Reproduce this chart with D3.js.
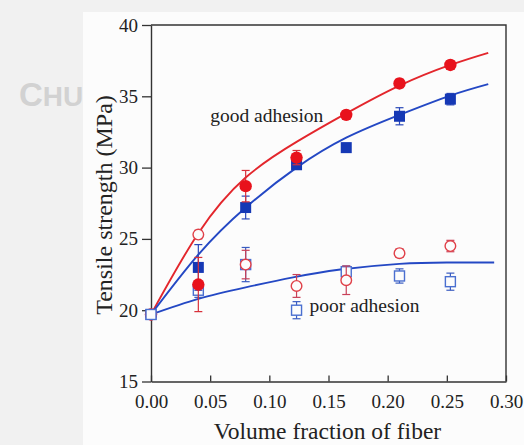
<!DOCTYPE html>
<html>
<head>
<meta charset="utf-8">
<script src="https://cdn.jsdelivr.net/npm/d3@7"></script>
<style>
  body { margin: 0; background: #f1f1f1; }
  svg { display: block; }
</style>
</head>
<body>
<svg id="chart" width="524" height="445"></svg>
<script>
// 데이터
const fractions = [0, 0.04, 0.08, 0.123, 0.165, 0.21, 0.253];
const goodRed = [19.7, 21.8, 28.7, 30.7, 33.7, 35.9, 37.2];
const goodRedErr = [0.2, 1.9, 1.1, 0.5, 0.3, 0.3, 0.3];
const goodBlue = [19.7, 23.0, 27.2, 30.2, 31.4, 33.6, 34.8];
const goodBlueErr = [0.2, 1.6, 0.8, 0.3, 0.3, 0.6, 0.4];
const poorRed = [19.7, 25.3, 23.2, 21.7, 22.1, 24.0, 24.5];
const poorRedErr = [0.2, 0.3, 1.0, 0.8, 1.0, 0.3, 0.4];
const poorBlue = [19.7, 21.4, 23.2, 20.0, 22.7, 22.4, 22.0];
const poorBlueErr = [0.2, 0.5, 1.2, 0.6, 0.4, 0.5, 0.6];

// 피팅 곡선 (그림에서 읽은 점)
const fitGoodRed = [[0, 19.7], [0.04, 25.4], [0.08, 29.3], [0.123, 31.8], [0.165, 33.8], [0.21, 35.75], [0.253, 37.2], [0.285, 38.05]];
const fitGoodBlue = [[0, 19.7], [0.04, 23.9], [0.08, 27.2], [0.123, 30.0], [0.165, 32.1], [0.21, 33.7], [0.253, 35.05], [0.285, 35.85]];
const fitPoor = [[0, 19.7], [0.04, 20.8], [0.08, 21.6], [0.12, 22.3], [0.16, 22.85], [0.21, 23.25], [0.25, 23.35], [0.29, 23.35]];

const xTicks = [0, 0.05, 0.10, 0.15, 0.20, 0.25, 0.30];
const yTicks = [15, 20, 25, 30, 35, 40];
const labels = [
    { text: "good adhesion", x: 0.05, y: 33.2 },
    { text: "poor adhesion", x: 0.134, y: 19.9 }
];

const svg = d3.select("#chart");
const margin = { top: 25, right: 18, bottom: 63.5, left: 151 };
const width = +svg.attr("width") - margin.left - margin.right;
const height = +svg.attr("height") - margin.top - margin.bottom;
const font = "'Liberation Serif', 'Times New Roman', serif";

// 배경 + 워터마크
svg.append("text")
    .attr("x", 19).attr("y", 106)
    .attr("fill", "#d2d2d2")
    .style("font-family", "'Liberation Sans Narrow', 'Liberation Sans', sans-serif")
    .style("font-weight", "bold")
    .style("font-size", "33px")
    .text("C")
    .append("tspan").style("font-size", "28px").text("HU");
svg.append("rect")
    .attr("x", 83).attr("y", 12)
    .attr("width", 524 - 83).attr("height", 445 - 12)
    .attr("fill", "#fcfcfc");

const g = svg.append("g").attr("transform", `translate(${margin.left},${margin.top})`);

const x = d3.scaleLinear().domain([0, 0.3]).range([0, width]);
const y = d3.scaleLinear().domain([15, 40]).range([height, 0]);

// 축
const xAxis = g.append("g")
    .attr("transform", `translate(0,${height})`)
    .call(d3.axisBottom(x).tickValues(xTicks).tickFormat(d3.format(".2f")).tickSizeInner(-6).tickSizeOuter(0).tickPadding(13));
const yAxis = g.append("g")
    .call(d3.axisLeft(y).tickValues(yTicks).tickSizeInner(9).tickSizeOuter(0).tickPadding(4));

[xAxis, yAxis].forEach(ax => {
    ax.select(".domain").attr("stroke", "#333").attr("stroke-width", 1.4);
    ax.selectAll(".tick line").attr("stroke", "#333").attr("stroke-width", 1.3);
    ax.selectAll(".tick text")
        .attr("fill", "#222")
        .style("font-family", font)
        .style("font-size", "19px");
});
xAxis.selectAll(".tick text").attr("dy", "0.35em").attr("y", 20);

// 위쪽, 오른쪽 테두리
g.append("path")
    .attr("d", `M0,0H${width}V${height}`)
    .attr("fill", "none")
    .attr("stroke", "#333")
    .attr("stroke-width", 1.4);

// 축 제목
svg.append("text")
    .attr("x", margin.left + width / 2 - 1)
    .attr("y", 439)
    .attr("text-anchor", "middle")
    .attr("fill", "#222")
    .style("font-family", font)
    .style("font-size", "23.5px")
    .text("Volume fraction of fiber");

svg.append("text")
    .attr("transform", "translate(112,205) rotate(-90)")
    .attr("text-anchor", "middle")
    .attr("fill", "#222")
    .style("font-family", font)
    .style("font-size", "24px")
    .text("Tensile strength (MPa)");

// 곡선
const line = d3.line()
    .x(d => x(d[0]))
    .y(d => y(d[1]))
    .curve(d3.curveNatural);

[[fitGoodRed, "#e3262c"], [fitGoodBlue, "#2448c4"], [fitPoor, "#2448c4"]].forEach(([pts, c]) => {
    g.append("path")
        .attr("d", line(pts))
        .attr("fill", "none")
        .attr("stroke", c)
        .attr("stroke-width", 1.9);
});

// 시리즈 정의 (그리는 순서: 아래 → 위)
const series = [
    { vals: poorBlue, err: poorBlueErr, shape: "square", solid: false, color: "#4a6fd0", bar: "#3a5cc0" },
    { vals: poorRed, err: poorRedErr, shape: "circle", solid: false, color: "#e04048", bar: "#c84058" },
    { vals: goodBlue, err: goodBlueErr, shape: "square", solid: true, color: "#1538b5", bar: "#2a48b8" },
    { vals: goodRed, err: goodRedErr, shape: "circle", solid: true, color: "#e8121c", bar: "#d8303a" }
];

function drawMarker(sel, s) {
    if (s.shape === "circle") {
        sel.append("circle")
            .attr("cx", d => x(d.f))
            .attr("cy", d => y(d.v))
            .attr("r", s.solid ? 6.2 : 5.3)
            .attr("fill", s.solid ? s.color : "#fcfcfc")
            .attr("stroke", s.solid ? "none" : s.color)
            .attr("stroke-width", 1.4);
    } else {
        const sz = s.solid ? 11 : 10;
        sel.append("rect")
            .attr("x", d => x(d.f) - sz / 2)
            .attr("y", d => y(d.v) - sz / 2)
            .attr("width", sz)
            .attr("height", sz)
            .attr("fill", s.solid ? s.color : "#fcfcfc")
            .attr("stroke", s.solid ? "none" : s.color)
            .attr("stroke-width", 1.4);
    }
}

const seriesPts = series.map(s => fractions.map((f, i) => ({ f: f, v: s.vals[i], e: s.err[i] })));

series.forEach((s, k) => {
    const pts = seriesPts[k].filter(d => d.f > 0);
    const eb = g.append("g").attr("stroke", s.bar).attr("stroke-width", 1.2);
    pts.forEach(d => {
        eb.append("line")
            .attr("x1", x(d.f)).attr("x2", x(d.f))
            .attr("y1", y(d.v - d.e)).attr("y2", y(d.v + d.e));
        [d.v - d.e, d.v + d.e].forEach(v => {
            eb.append("line")
                .attr("x1", x(d.f) - 4).attr("x2", x(d.f) + 4)
                .attr("y1", y(v)).attr("y2", y(v));
        });
    });
    drawMarker(g.selectAll(null).data(pts).enter(), s);
});

// 원점 표식 (빈 사각형이 맨 위)
[3, 2, 1, 0].forEach(k => {
    drawMarker(g.selectAll(null).data(seriesPts[k].filter(d => d.f === 0)).enter(), series[k]);
});

// 주석
g.selectAll(".note")
    .data(labels)
    .enter()
    .append("text")
    .attr("class", "note")
    .attr("x", d => x(d.x))
    .attr("y", d => y(d.y))
    .attr("fill", "#222")
    .style("font-family", font)
    .style("font-size", "19.5px")
    .text(d => d.text);
</script>
</body>
</html>
